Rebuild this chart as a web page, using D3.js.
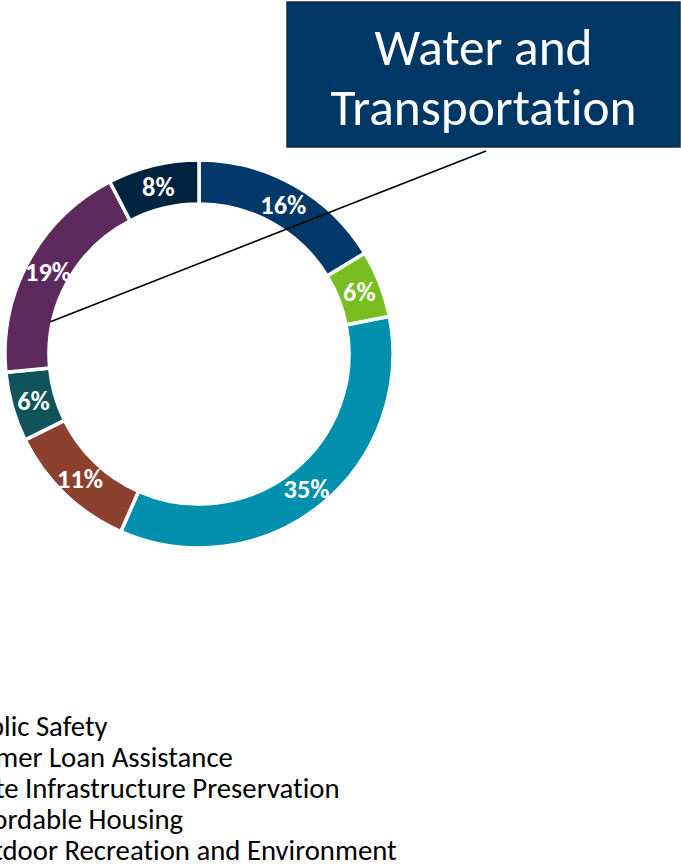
<!DOCTYPE html>
<html>
<head>
<meta charset="utf-8">
<script src="https://cdn.jsdelivr.net/npm/d3@7"></script>
<style>
  body { margin: 0; background: #fff; overflow: hidden; }
  text { font-variant-ligatures: none; }
</style>
</head>
<body>
<div id="chart"></div>
<script>
// segment shares (clockwise from 12 o'clock), as read from the ring
const shares = [16.3, 5.6, 34.7, 11.1, 5.8, 18.9, 7.6];
const shareLabels = ["16%", "6%", "35%", "11%", "6%", "19%", "8%"];
const colors = ["#03386a", "#78be21", "#0090ad", "#8b412d", "#10535a", "#5d2a5e", "#002340"];
const legendLabels = [
  "Public Safety",
  "Farmer Loan Assistance",
  "State Infrastructure Preservation",
  "Affordable Housing",
  "Outdoor Recreation and Environment"
];
const calloutLines = ["Water and", "Transportation"];
const calloutIndex = 5; // segment the leader line points to

const width = 681;
const height = 866;
const cx = 199, cy = 354;
const rOuter = 194, rInner = 150;
const font = "Calibri, Carlito, Lato, sans-serif";

const svg = d3.select("#chart").append("svg")
  .attr("width", width)
  .attr("height", height);

// shrink / grow a text node so it spans the wanted width
function fitWidth(sel, target) {
  const w = sel.node().getComputedTextLength();
  const fs = parseFloat(sel.attr("font-size"));
  const nfs = fs * target / w;
  sel.attr("font-size", nfs);
  return nfs;
}

const pie = d3.pie().sort(null).value(d => d);
const arcs = pie(shares);
const arc = d3.arc().innerRadius(rInner).outerRadius(rOuter);

const g = svg.append("g").attr("transform", `translate(${cx},${cy})`);

g.selectAll("path.slice")
  .data(arcs)
  .enter().append("path")
  .attr("class", "slice")
  .attr("d", arc)
  .attr("fill", (d, i) => colors[i])
  .attr("stroke", "#fff")
  .attr("stroke-width", 3.5);

const labels = g.selectAll("text.pct")
  .data(arcs)
  .enter().append("text")
  .attr("class", "pct")
  .attr("transform", d => `translate(${arc.centroid(d)})`)
  .attr("text-anchor", "middle")
  .attr("dy", "0.36em")
  .attr("font-family", font)
  .attr("font-weight", "bold")
  .attr("font-size", 24)
  .attr("fill", "#fff")
  .text((d, i) => shareLabels[i]);

// size all labels like the "35%" one (about 45px wide)
const pctSize = fitWidth(labels.filter((d, i) => i === 2), 46);
labels.attr("font-size", pctSize);

// leader line from the callout box to the segment
const seg = arcs[calloutIndex];
const a = seg.startAngle + 0.26 * (seg.endAngle - seg.startAngle);
const tip = [cx + (rInner + 2) * Math.sin(a), cy - (rInner + 2) * Math.cos(a)];

const box = { x: 287, y: 2, w: 393, h: 145 };

svg.append("line")
  .attr("x1", box.x + 199)
  .attr("y1", box.y + box.h + 4)
  .attr("x2", tip[0])
  .attr("y2", tip[1])
  .attr("stroke", "#000")
  .attr("stroke-width", 1.6);

svg.append("rect")
  .attr("x", box.x)
  .attr("y", box.y)
  .attr("width", box.w)
  .attr("height", box.h)
  .attr("fill", "#003865")
  .attr("stroke", "#1c2a38")
  .attr("stroke-width", 1.5);

const titles = svg.selectAll("text.callout")
  .data(calloutLines)
  .enter().append("text")
  .attr("class", "callout")
  .attr("x", box.x + box.w / 2)
  .attr("y", (d, i) => 65 + i * 60)
  .attr("text-anchor", "middle")
  .attr("font-family", font)
  .attr("font-size", 48)
  .attr("fill", "#fff")
  .text(d => d);

const titleSize = fitWidth(titles.filter((d, i) => i === 1), 306);
titles.attr("font-size", titleSize);

// legend (its left part runs off the page)
const legend = svg.selectAll("text.legend")
  .data(legendLabels)
  .enter().append("text")
  .attr("class", "legend")
  .attr("x", -41)
  .attr("y", (d, i) => 736 + i * 31)
  .attr("font-family", font)
  .attr("font-size", 26)
  .attr("fill", "#000")
  .text(d => d);

const legendSize = fitWidth(legend.filter((d, i) => i === 4), 438);
legend.attr("font-size", legendSize);
</script>
</body>
</html>
